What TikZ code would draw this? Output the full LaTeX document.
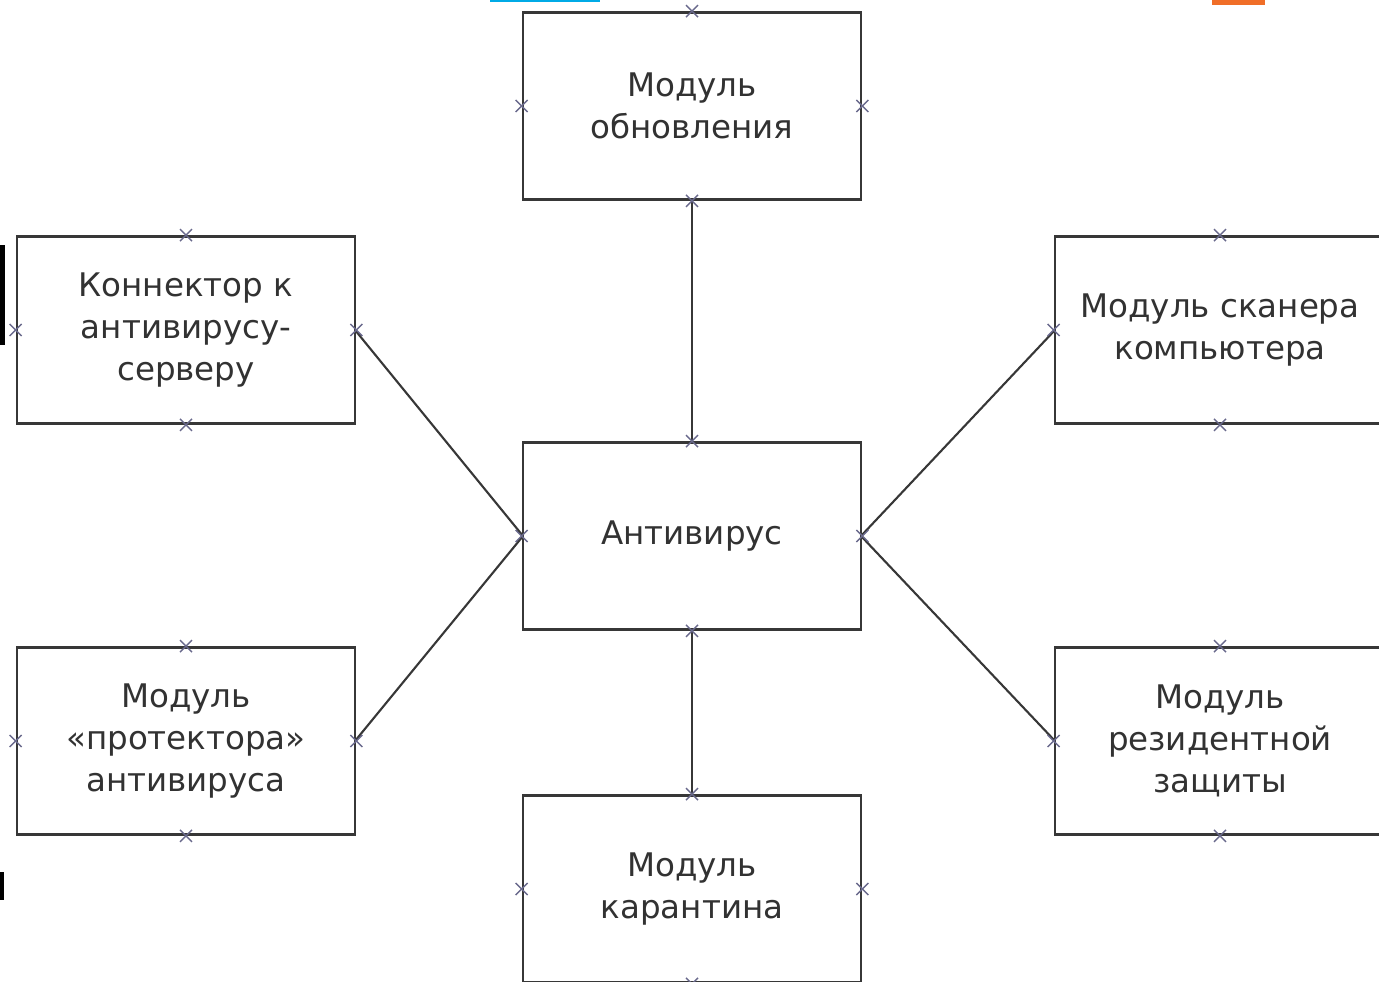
\documentclass[tikz,border=0pt]{standalone}
\usepackage{fontspec}
\setmainfont{DejaVu Sans}
\definecolor{framegray}{RGB}{55,55,55}
\definecolor{textgray}{RGB}{50,50,50}
\definecolor{pinblue}{RGB}{105,105,140}
\definecolor{slideblue}{RGB}{0,170,230}
\definecolor{slideorange}{RGB}{240,110,40}

\begin{document}
\begin{tikzpicture}[x=0.02cm, y=-0.02cm,
    modbox/.style={draw=framegray, line width=1.6pt, fill=white,
        minimum width=6.76cm, minimum height=3.74cm,
        align=center, text=textgray,
        font=\fontsize{18.5}{23.8}\selectfont},
    wide/.style={minimum width=6.6cm},
    link/.style={draw=framegray, line width=1.2pt},
    pin/.style={draw=pinblue, line width=0.8pt}]
    \useasboundingbox (0,0) rectangle (1379,982);
    \clip (0,0) rectangle (1379,982);

    % Обрывки слайда по краям
    \fill[black] (0,245) rectangle (5,345);
    \fill[black] (0,872) rectangle (4,900);
    \fill[slideblue] (490,0) rectangle (600,2);
    \fill[slideorange] (1212,0) rectangle (1265,5);

    % Связи
    \draw[link] (692,200) -- (692,443);
    \draw[link] (692,630) -- (692,797);
    \draw[link] (355,330) -- (523,536);
    \draw[link] (355,741) -- (523,536);
    \draw[link] (861,536) -- (1055,330);
    \draw[link] (861,536) -- (1055,741);

    % Модули
    \node[modbox] (upd) at (692,106) {Модуль\\обновления};
    \node[modbox] (conn) at (186,330) {Коннектор к\\антивирусу-\\серверу};
    \node[modbox, wide] (scan) at (1220,330) {Модуль сканера\\компьютера};
    \node[modbox] (av) at (692,536) {Антивирус};
    \node[modbox] (prot) at (186,741) {Модуль\\«протектора»\\антивируса};
    \node[modbox, wide] (res) at (1220,741) {Модуль\\резидентной\\защиты};
    \node[modbox] (quar) at (692,889) {Модуль\\карантина};

    % Точки соединения
    \foreach \n in {upd, conn, scan, av, prot, res, quar} {
        \foreach \a in {north, south, east, west} {
            \draw[pin] (\n.\a) ++(-6,-6) -- ++(12,12) ++(0,-12) -- ++(-12,12);
        }
    }
\end{tikzpicture}
\end{document}
